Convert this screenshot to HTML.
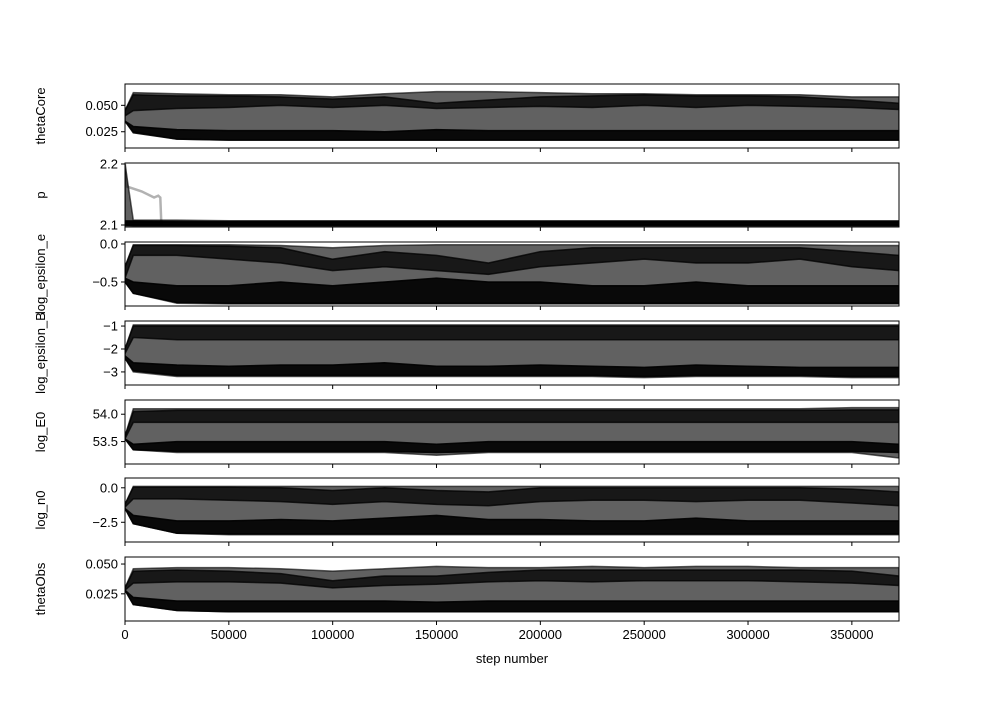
<!DOCTYPE html>
<html><head><meta charset="utf-8"><style>
body{margin:0;background:#fff;}
svg text{font-family:"Liberation Sans","DejaVu Sans",sans-serif;font-size:13px;fill:#000;}
</style></head><body>
<svg id="chart" width="1000" height="700" xmlns="http://www.w3.org/2000/svg"></svg>
<script>
const steps=[0,4000,25000,50000,75000,100000,125000,150000,175000,200000,225000,250000,275000,300000,325000,350000,372700];
const xTicks=[0,50000,100000,150000,200000,250000,300000,350000];
const names=["thetaCore","p","log_epsilon_e","log_epsilon_B","log_E0","log_n0","thetaObs"];
const outerTop=[[0.045,0.062,0.061,0.060,0.060,0.058,0.061,0.063,0.063,0.062,0.061,0.061,0.060,0.060,0.060,0.058,0.058],
 [2.20,2.108,2.108,2.107,2.107,2.107,2.107,2.107,2.107,2.107,2.107,2.107,2.107,2.107,2.107,2.107,2.107],
 [-0.3,-0.01,-0.01,-0.01,-0.02,-0.05,-0.02,-0.01,-0.01,-0.01,-0.01,-0.01,-0.01,-0.01,-0.01,-0.02,-0.02],
 [-2.0,-0.95,-0.95,-0.95,-0.95,-0.95,-0.95,-0.95,-0.95,-0.95,-0.95,-0.95,-0.95,-0.95,-0.95,-0.95,-0.95],
 [53.6,54.1,54.1,54.1,54.1,54.1,54.1,54.1,54.1,54.1,54.1,54.1,54.1,54.1,54.1,54.12,54.12],
 [-1.2,0.1,0.1,0.1,0.1,0.1,0.1,0.1,0.1,0.1,0.1,0.1,0.1,0.1,0.1,0.1,0.1],
 [0.030,0.046,0.047,0.047,0.046,0.044,0.046,0.048,0.047,0.047,0.048,0.047,0.048,0.048,0.047,0.047,0.047]];
const outerBot=[[0.035,0.025,0.018,0.017,0.017,0.017,0.017,0.017,0.017,0.017,0.017,0.017,0.017,0.017,0.017,0.017,0.017],
 [2.10,2.099,2.099,2.099,2.099,2.099,2.099,2.099,2.099,2.099,2.099,2.099,2.099,2.099,2.099,2.099,2.099],
 [-0.5,-0.65,-0.78,-0.79,-0.79,-0.79,-0.79,-0.79,-0.79,-0.79,-0.79,-0.79,-0.79,-0.79,-0.79,-0.79,-0.79],
 [-2.4,-3.0,-3.2,-3.2,-3.2,-3.2,-3.2,-3.2,-3.2,-3.2,-3.2,-3.25,-3.2,-3.2,-3.2,-3.25,-3.25],
 [53.55,53.35,53.3,53.3,53.3,53.3,53.3,53.25,53.3,53.3,53.3,53.3,53.3,53.3,53.3,53.3,53.2],
 [-1.5,-2.6,-3.3,-3.4,-3.4,-3.4,-3.4,-3.4,-3.4,-3.4,-3.4,-3.4,-3.4,-3.4,-3.4,-3.4,-3.4],
 [0.028,0.016,0.011,0.010,0.010,0.010,0.010,0.010,0.010,0.010,0.010,0.010,0.010,0.010,0.010,0.010,0.010]];
const hiTop=[[0.045,0.060,0.059,0.059,0.058,0.056,0.058,0.052,0.055,0.058,0.059,0.060,0.059,0.059,0.058,0.055,0.052],
 [2.107,2.107,2.106,2.106,2.106,2.106,2.106,2.106,2.106,2.106,2.106,2.106,2.106,2.106,2.106,2.106,2.106],
 [-0.3,-0.02,-0.02,-0.03,-0.05,-0.2,-0.1,-0.15,-0.25,-0.1,-0.05,-0.05,-0.05,-0.05,-0.05,-0.1,-0.15],
 [-2.0,-1.0,-1.0,-1.0,-1.0,-1.0,-1.0,-1.0,-1.0,-1.0,-1.0,-1.0,-1.0,-1.0,-1.0,-1.0,-1.0],
 [53.6,54.05,54.07,54.07,54.07,54.07,54.07,54.07,54.07,54.07,54.07,54.07,54.07,54.07,54.07,54.08,54.08],
 [-1.2,0.05,0.05,0.05,0.0,-0.2,0.0,-0.2,-0.3,0.0,0.0,0.0,0.0,0.0,0.0,-0.1,-0.3],
 [0.030,0.044,0.045,0.044,0.042,0.036,0.040,0.040,0.043,0.045,0.045,0.045,0.045,0.045,0.045,0.044,0.040]];
const hiBot=[[0.040,0.045,0.047,0.048,0.050,0.048,0.050,0.047,0.048,0.049,0.048,0.050,0.048,0.050,0.049,0.048,0.046],
 [2.100,2.100,2.100,2.100,2.100,2.100,2.100,2.100,2.100,2.100,2.100,2.100,2.100,2.100,2.100,2.100,2.100],
 [-0.45,-0.15,-0.15,-0.2,-0.25,-0.35,-0.3,-0.35,-0.4,-0.3,-0.25,-0.2,-0.25,-0.25,-0.2,-0.3,-0.35],
 [-2.2,-1.5,-1.6,-1.6,-1.6,-1.6,-1.6,-1.6,-1.6,-1.6,-1.6,-1.6,-1.6,-1.6,-1.6,-1.6,-1.6],
 [53.55,53.85,53.85,53.85,53.85,53.85,53.85,53.85,53.85,53.85,53.85,53.85,53.85,53.85,53.85,53.85,53.85],
 [-1.4,-0.8,-0.8,-0.9,-1.0,-1.2,-1.0,-1.2,-1.3,-1.0,-0.9,-0.9,-1.0,-0.9,-0.9,-1.1,-1.3],
 [0.028,0.034,0.035,0.035,0.034,0.030,0.032,0.033,0.035,0.036,0.035,0.036,0.036,0.036,0.035,0.034,0.032]];
const loTop=[[0.035,0.030,0.027,0.026,0.026,0.026,0.025,0.027,0.026,0.026,0.026,0.026,0.026,0.026,0.026,0.026,0.026],
 [2.105,2.105,2.105,2.105,2.105,2.105,2.105,2.105,2.105,2.105,2.105,2.105,2.105,2.105,2.105,2.105,2.105],
 [-0.45,-0.5,-0.55,-0.55,-0.5,-0.55,-0.5,-0.45,-0.5,-0.5,-0.55,-0.55,-0.5,-0.55,-0.55,-0.55,-0.55],
 [-2.3,-2.6,-2.7,-2.75,-2.7,-2.7,-2.6,-2.75,-2.75,-2.7,-2.75,-2.8,-2.7,-2.75,-2.8,-2.8,-2.8],
 [53.55,53.45,53.5,53.5,53.5,53.5,53.5,53.45,53.5,53.5,53.5,53.5,53.5,53.5,53.5,53.5,53.45],
 [-1.5,-2.0,-2.4,-2.4,-2.3,-2.4,-2.2,-2.0,-2.3,-2.3,-2.4,-2.4,-2.2,-2.4,-2.4,-2.4,-2.4],
 [0.028,0.022,0.019,0.019,0.019,0.019,0.019,0.018,0.019,0.019,0.019,0.019,0.019,0.019,0.019,0.019,0.019]];
const loBot=[[0.035,0.024,0.018,0.017,0.017,0.017,0.017,0.017,0.017,0.017,0.017,0.017,0.017,0.017,0.017,0.017,0.017],
 [2.099,2.099,2.099,2.099,2.099,2.099,2.099,2.099,2.099,2.099,2.099,2.099,2.099,2.099,2.099,2.099,2.099],
 [-0.5,-0.65,-0.77,-0.78,-0.78,-0.78,-0.78,-0.78,-0.78,-0.78,-0.78,-0.78,-0.78,-0.78,-0.78,-0.78,-0.78],
 [-2.4,-2.95,-3.15,-3.15,-3.15,-3.15,-3.15,-3.15,-3.15,-3.15,-3.15,-3.2,-3.15,-3.15,-3.15,-3.2,-3.2],
 [53.55,53.35,53.32,53.32,53.32,53.32,53.32,53.3,53.32,53.32,53.32,53.32,53.32,53.32,53.32,53.32,53.3],
 [-1.5,-2.6,-3.3,-3.35,-3.35,-3.35,-3.35,-3.35,-3.35,-3.35,-3.35,-3.35,-3.35,-3.35,-3.35,-3.35,-3.35],
 [0.028,0.016,0.011,0.010,0.010,0.010,0.010,0.010,0.010,0.010,0.010,0.010,0.010,0.010,0.010,0.010,0.010]];
const yRanges=[[0.0096,0.0702],[2.0967,2.2016],[-0.816,0.026],[-3.57,-0.78],[53.09,54.26],[-3.93,0.71],[0.0022,0.0559]];
const yTickVals=[[0.025,0.050],[2.1,2.2],[-0.5,0.0],[-3,-2,-1],[53.5,54.0],[-2.5,0.0],[0.025,0.050]];
const yTickLabels=[["0.025","0.050"],["2.1","2.2"],["\u22120.5","0.0"],["\u22123","\u22122","\u22121"],["53.5","54.0"],["\u22122.5","0.0"],["0.025","0.050"]];
const pStrayX=[0,1000,8000,14000,16000,17000,17500];
const pStrayY=[2.20,2.163,2.155,2.145,2.148,2.145,2.101];

const NS="http://www.w3.org/2000/svg";
const svg=document.getElementById('chart');
const panelTop=[84,163,242,321,400,478,557], panelH=64, L=125, R=899, XMAX=372700;
const sx=v=>L+(v/XMAX)*(R-L);
function mk(tag,attrs,parent){const e=document.createElementNS(NS,tag);for(const k in attrs)e.setAttribute(k,attrs[k]);(parent||svg).appendChild(e);return e;}
function band(top,bot,sy,fill,op,g,name){
  let d="M"+steps.map((s,i)=>sx(s)+","+sy(top[i])).join(" L");
  d+=" L"+steps.map((s,i)=>[sx(s),sy(bot[i])]).reverse().map(p=>p.join(",")).join(" L")+" Z";
  const p=mk('path',{d:d,fill:fill,'fill-opacity':op,stroke:fill,'stroke-opacity':op,'stroke-width':1.5},g);
  
  
}
names.forEach((nm,k)=>{
  const t=panelTop[k], b=t+panelH, [y0,y1]=yRanges[k];
  const sy=v=>b-(v-y0)/(y1-y0)*panelH;
  const g=mk('g',{});
  
  
  const cp=mk('clipPath',{id:'c'+k},g);mk('rect',{x:L,y:t,width:R-L,height:panelH},cp);
  const inner=mk('g',{'clip-path':'url(#c'+k+')'},g);
  band(outerTop[k],outerBot[k],sy,'#000',0.62,inner,'walker-envelope');
  band(hiTop[k],hiBot[k],sy,'#000',0.75,inner,'walker-upper-band');
  band(loTop[k],loBot[k],sy,'#000',0.9,inner,'walker-lower-band');
  if(k===1){
    const pl=mk('polyline',{points:pStrayX.map((x,i)=>sx(x)+","+sy(pStrayY[i])).join(" "),fill:'none',stroke:'#000','stroke-opacity':0.3,'stroke-width':2.5},inner);
    
    
  }
  const fr=mk('rect',{x:L,y:t,width:R-L,height:panelH,fill:'none',stroke:'#000','stroke-width':1},g);
  
  
  yTickVals[k].forEach((v,i)=>{
    const y=sy(v);
    mk('line',{x1:L-4,x2:L,y1:y,y2:y,stroke:'#000'},g);
    const tx=mk('text',{x:L-7,y:y+4.5,'text-anchor':'end'},g);tx.textContent=yTickLabels[k][i];
    
    
  });
  xTicks.forEach(v=>{mk('line',{x1:sx(v),x2:sx(v),y1:b,y2:b+4,stroke:'#000'},g);});
  const yl=mk('text',{x:0,y:0,'text-anchor':'middle',transform:'translate(45,'+(t+panelH/2)+') rotate(-90)'},g);
  yl.textContent=nm;
  
  
});
const lb=panelTop[6]+panelH;
xTicks.forEach(v=>{
  const tx=mk('text',{x:sx(v),y:lb+18,'text-anchor':'middle'});tx.textContent=String(v);
  
  
});
const xl=mk('text',{x:(L+R)/2,y:lb+42,'text-anchor':'middle'});xl.textContent="step number";


</script>
</body></html>
